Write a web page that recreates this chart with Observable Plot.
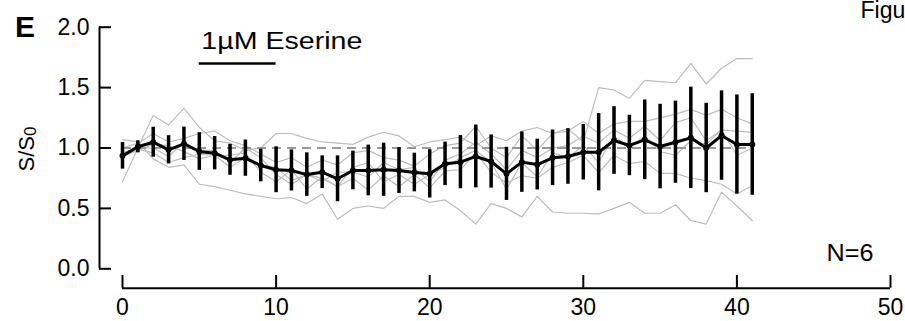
<!DOCTYPE html>
<html><head><meta charset="utf-8">
<script src="https://cdn.jsdelivr.net/npm/d3@7"></script>
<script src="https://cdn.jsdelivr.net/npm/@observablehq/plot@0.6"></script>
<style>
html,body{margin:0;padding:0;background:#fff;}
#chart{width:905px;height:321px;overflow:hidden;}
</style></head><body><div id="chart"></div>
<script>
// time points (trial index)
const trials = [0,1,2,3,4,5,6,7,8,9,10,11,12,13,14,15,16,17,18,19,20,21,22,23,24,25,26,27,28,29,30,31,32,33,34,35,36,37,38,39,40,41];
// mean S/S0
const means = [0.935,1.01,1.048,0.985,1.035,0.971,0.957,0.902,0.916,0.855,
  0.82,0.814,0.78,0.80,0.745,0.814,0.814,0.82,0.814,0.797,
  0.786,0.869,0.883,0.93,0.888,0.786,0.883,0.863,0.919,0.93,
  0.965,0.965,1.062,1.021,1.068,1.012,1.048,1.084,1.0,1.103,1.029,1.029];
// error bar half-lengths
const errors = [0.11,0.05,0.124,0.117,0.138,0.156,0.138,0.128,0.15,0.135,
  0.19,0.17,0.18,0.135,0.19,0.16,0.21,0.22,0.19,0.16,
  0.2,0.18,0.22,0.26,0.22,0.22,0.25,0.21,0.23,0.23,
  0.23,0.32,0.28,0.25,0.33,0.35,0.34,0.42,0.37,0.37,0.41,0.42];
// individual experiments (N=6)
const cell1 = [0.72,1.00,1.27,1.19,1.33,1.17,1.06,1.04,0.98,1.00, 1.12,1.12,1.08,1.05,1.04,1.03,1.09,1.13,1.10,1.01, 1.05,1.07,1.09,1.02,1.10,1.06,1.14,1.17,1.12,1.16, 1.05,1.50,1.48,1.41,1.56,1.55,1.54,1.70,1.53,1.66,1.74,1.74];
const cell2 = [1.00,1.04,1.12,1.05,1.08,1.12,1.14,1.06,1.02,0.95, 0.88,0.92,0.84,0.90,0.86,0.96,0.98,0.92,0.90,0.85, 0.95,1.02,1.04,1.18,1.00,0.92,1.10,0.98,1.12,1.14, 1.22,1.12,1.20,1.22,1.22,1.25,1.28,1.32,1.27,1.32,1.25,1.20];
const cell3 = [0.96,1.00,1.00,0.93,1.05,0.98,0.98,0.88,1.00,0.92, 0.78,0.70,0.78,0.72,0.80,0.80,0.76,0.88,0.82,0.84, 0.72,0.90,0.95,1.05,0.95,0.82,0.98,0.92,1.00,1.02, 1.10,1.04,1.15,1.08,1.18,1.06,1.21,1.25,1.06,1.15,1.14,1.13];
const cell4 = [0.93,0.99,0.96,0.88,0.92,0.95,0.94,0.94,0.96,0.80, 0.72,0.82,0.66,0.76,0.68,0.84,0.88,0.72,0.78,0.70, 0.78,0.84,0.92,0.98,0.88,0.66,0.88,0.76,0.96,0.92, 1.02,0.88,1.10,1.00,1.10,0.97,0.94,1.06,1.03,1.15,0.94,1.00];
const cell5 = [0.93,0.98,1.03,1.02,0.97,0.91,0.94,0.84,0.92,0.86, 0.84,0.73,0.78,0.75,0.68,0.75,0.65,0.77,0.68,0.78, 0.67,0.81,0.82,0.96,0.80,0.71,0.77,0.75,0.84,0.88, 0.94,0.795,0.94,0.87,0.89,0.79,0.79,0.75,0.73,0.70,0.62,0.69];
const cell6 = [1.07,1.05,0.91,0.84,0.86,0.70,0.68,0.65,0.62,0.60, 0.58,0.59,0.54,0.62,0.41,0.50,0.52,0.50,0.60,0.60, 0.55,0.57,0.48,0.37,0.54,0.50,0.43,0.60,0.47,0.46, 0.46,0.455,0.50,0.55,0.46,0.46,0.53,0.40,0.37,0.635,0.52,0.40];
// ticks
const xTicks = [0,10,20,30,40,50];
const yTicks = [0,0.5,1.0,1.5,2.0];
// drug application bar
const drugStart = 5, drugEnd = 10, drugLevel = 1.70;
const drugLabel = "1\u00b5M Eserine";
const baseline = 1.0;
const nLabel = "N=6";

const cells = [cell1,cell2,cell3,cell4,cell5,cell6];
const traceData = cells.flatMap((arr,k)=>arr.map((v,i)=>({t:trials[i], v, k})));
const meanData = trials.map((t,i)=>({t, m:means[i], e:errors[i]}));
const FONT = "'Liberation Sans', Arial, Helvetica, sans-serif";

const plot = Plot.plot({
  width: 905, height: 321,
  marginLeft: 99, marginRight: 15, marginTop: 20, marginBottom: 33.3,
  style: {fontFamily: FONT, background: "white", color: "black", overflow: "visible"},
  x: {domain: [0,50], range: [122, 890], label: null},
  y: {domain: [0,2], range: [268.3, 26.7], label: null},
  marks: [
    Plot.line(traceData, {x:"t", y:"v", z:"k", stroke:"#bdbdbd", strokeWidth:1.2}),
    Plot.ruleY([baseline], {x1: trials[0], x2: trials[trials.length-1], stroke:"#999", strokeWidth:2, strokeDasharray:"9,6"}),
    Plot.ruleX(meanData, {x:"t", y1:d=>d.m-d.e, y2:d=>d.m+d.e, stroke:"black", strokeWidth:3.5}),
    Plot.line(meanData, {x:"t", y:"m", stroke:"black", strokeWidth:3}),
    Plot.dot(meanData, {x:"t", y:"m", r:3, fill:"black"}),
    // axes lines
    Plot.ruleX([xTicks[0]], {y1:yTicks[0], y2:yTicks[yTicks.length-1], dx:-23, strokeWidth:2}),
    Plot.ruleY([yTicks[0]], {x1:xTicks[0], x2:xTicks[xTicks.length-1], dy:19.4, strokeWidth:2}),
    Plot.axisY(yTicks, {tickSize:-12, tickFormat:()=>"", strokeWidth:2, label:null}),
    Plot.axisY(yTicks, {tickSize:0, tickPadding:10, tickFormat:d=>d.toFixed(1), fontSize:23, label:null}),
    Plot.axisX(xTicks, {tickSize:-12.7, tickFormat:()=>"", strokeWidth:2, label:null}),
    Plot.axisX(xTicks, {tickSize:0, tickPadding:10, fontSize:23, label:null}),
    // annotations
    Plot.ruleY([drugLevel], {x1:drugStart, x2:drugEnd, stroke:"black", strokeWidth:2.5}),
    Plot.text([drugLabel], {x:drugStart, y:drugLevel, text:d=>d, textAnchor:"start", lineAnchor:"bottom", dx:2, dy:-14, fontSize:23}),
    Plot.text([nLabel], {frameAnchor:"bottom-right", text:d=>d, textAnchor:"end", lineAnchor:"bottom", dx:-17, dy:-27.7, fontSize:23}),
    Plot.text(["E"], {frameAnchor:"top-left", text:d=>d, textAnchor:"start", lineAnchor:"bottom", dx:-84.5, dy:16.7, fontSize:30, fontWeight:"bold"}),
    Plot.text(["Figure"], {frameAnchor:"top-right", text:d=>d, textAnchor:"start", lineAnchor:"bottom", dx:-30, dy:-3, fontSize:23})
  ]
});

// widen annotation labels to match the reference's typeface width
const svg = d3.select(plot);
svg.selectAll("text").each(function() {
  const t = this.textContent;
  if (t === drugLabel) d3.select(this).attr("textLength", 161).attr("lengthAdjust", "spacingAndGlyphs");
  if (t === nLabel) d3.select(this).attr("textLength", 47).attr("lengthAdjust", "spacingAndGlyphs");
});

// y-axis title with subscript
const lab = svg.append("text")
  .attr("transform", "translate(34,149) rotate(-90)")
  .attr("text-anchor", "middle")
  .attr("font-family", FONT)
  .attr("font-size", 22)
  .attr("fill", "black");
lab.append("tspan").text("S/S");
lab.append("tspan").attr("font-size", 17).attr("dy", 2).text("0");

document.getElementById("chart").appendChild(plot);
</script>
</body></html>
